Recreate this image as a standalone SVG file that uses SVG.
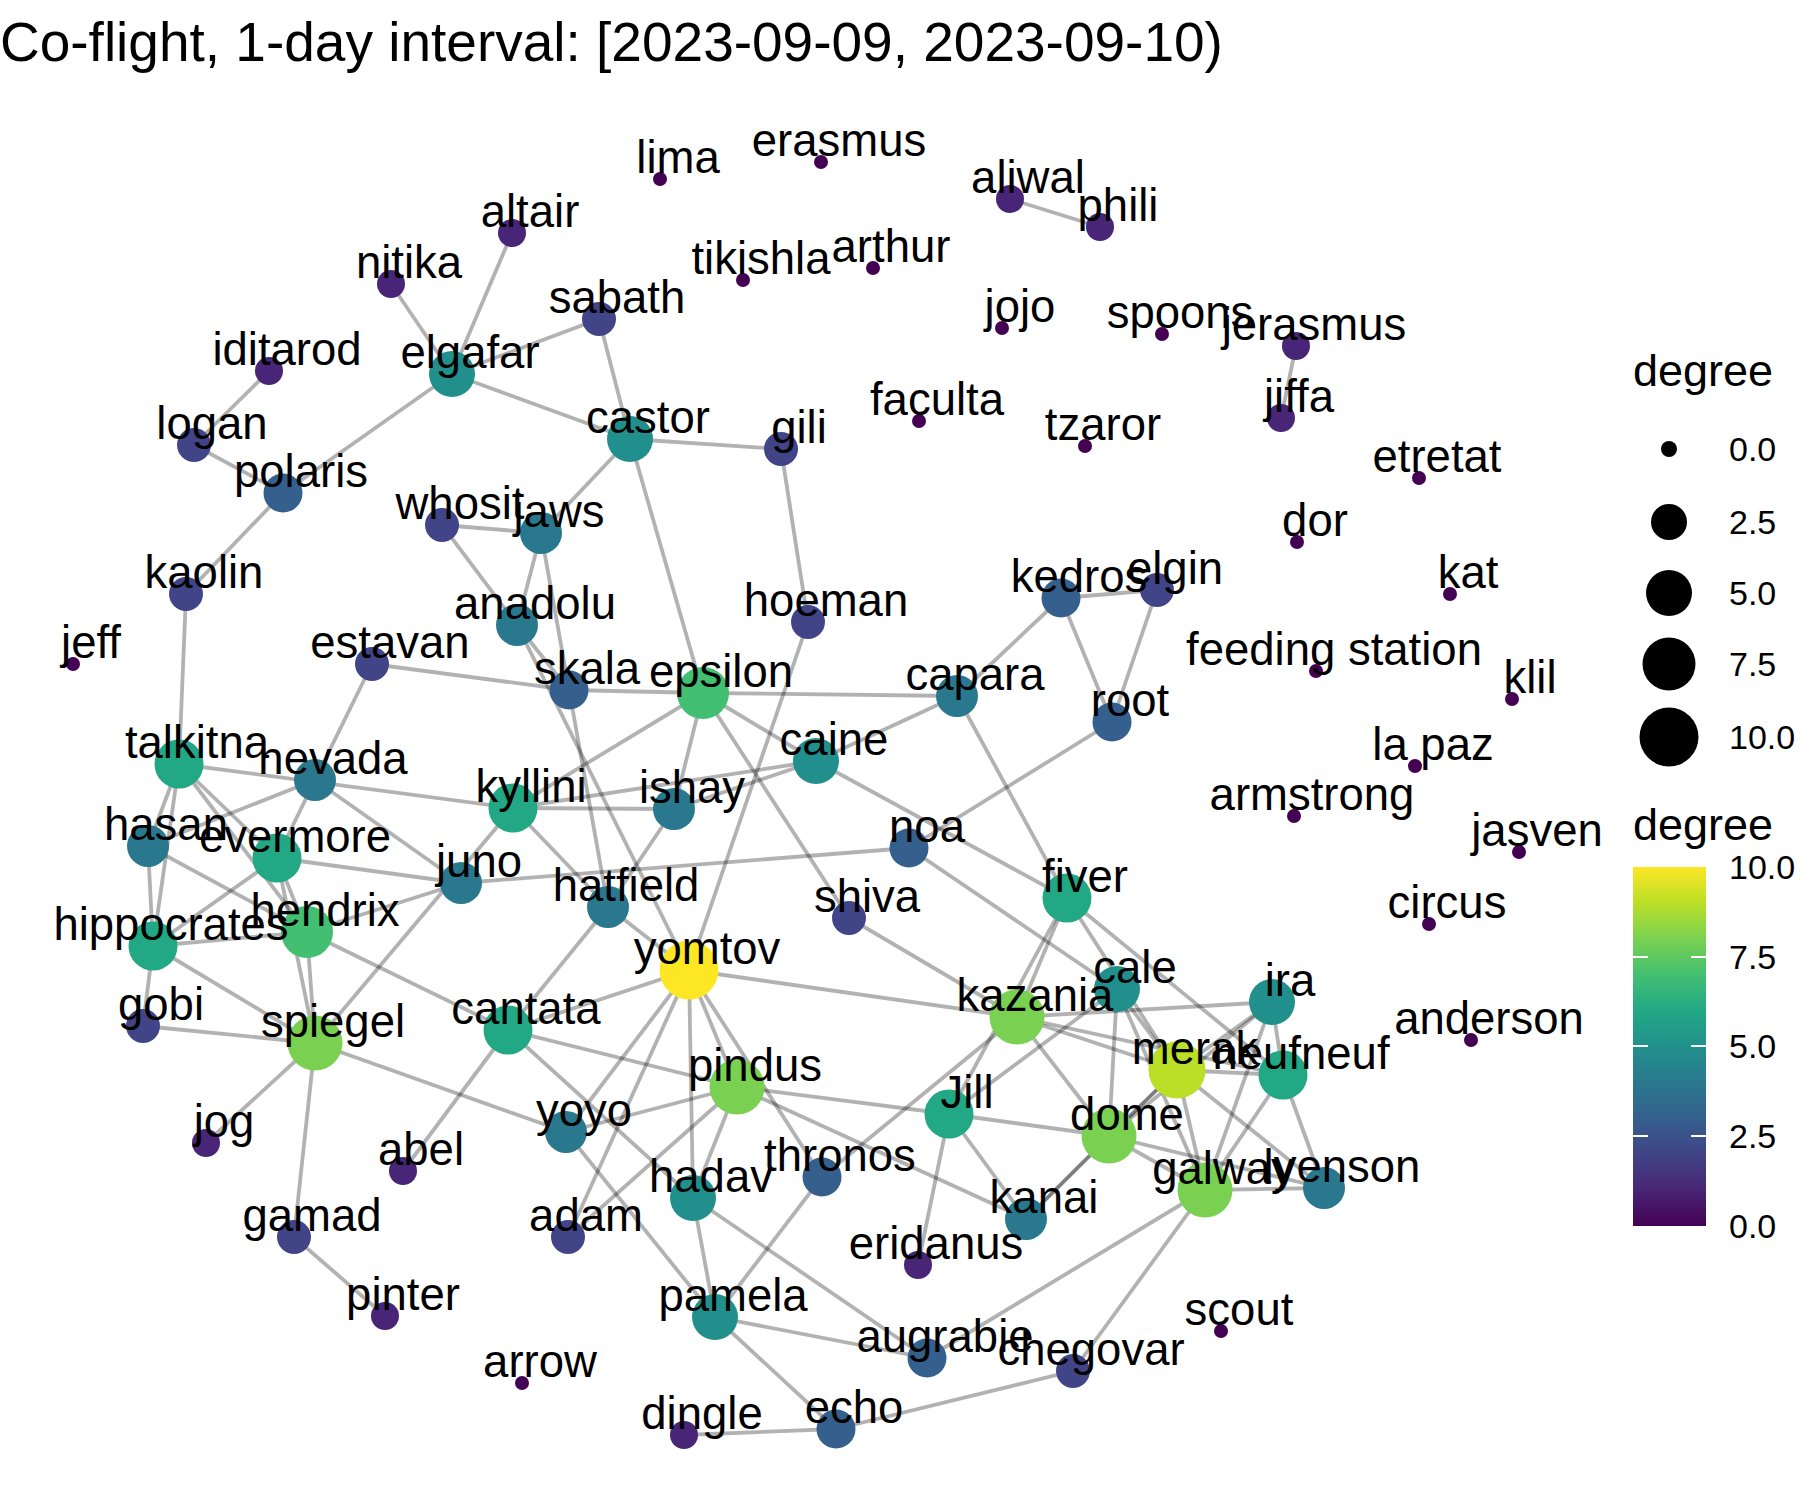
<svg xmlns="http://www.w3.org/2000/svg" width="1800" height="1500" viewBox="0 0 1800 1500">
<style>
.e{stroke:#000;stroke-opacity:0.3;stroke-width:3.8;fill:none;stroke-linecap:butt}
.lbl{font-family:"Liberation Sans",Arial,Helvetica,sans-serif;font-size:45.5px;fill:#000;text-anchor:middle}
.title{font-family:"Liberation Sans",Arial,Helvetica,sans-serif;font-size:55px;fill:#000}
.lt{font-family:"Liberation Sans",Arial,Helvetica,sans-serif;font-size:45px;fill:#000}
.lx{font-family:"Liberation Sans",Arial,Helvetica,sans-serif;font-size:34px;fill:#000}
.d0{fill:#440154}.d1{fill:#482576}.d2{fill:#414487}.d3{fill:#35608D}.d4{fill:#2A788E}.d5{fill:#21908C}.d6{fill:#22A884}.d7{fill:#43BF71}.d8{fill:#7AD151}.d9{fill:#BBDF27}.d10{fill:#FDE725}
.tick{stroke:#fff;stroke-width:2}
</style>
<defs>
<linearGradient id="vir" x1="0" y1="0" x2="0" y2="1">
<stop offset="0" stop-color="#FDE725"/><stop offset="0.1" stop-color="#BBDF27"/><stop offset="0.2" stop-color="#7AD151"/><stop offset="0.3" stop-color="#43BF71"/><stop offset="0.4" stop-color="#22A884"/><stop offset="0.5" stop-color="#21908C"/><stop offset="0.6" stop-color="#2A788E"/><stop offset="0.7" stop-color="#35608D"/><stop offset="0.8" stop-color="#414487"/><stop offset="0.9" stop-color="#482576"/><stop offset="1" stop-color="#440154"/>
</linearGradient>
</defs>
<rect width="1800" height="1500" fill="#fff"/>
<text class="title" x="0" y="61">Co-flight, 1-day interval: [2023-09-09, 2023-09-10)</text>
<g id="edges">
<line class="e" x1="512" y1="233" x2="452" y2="374"/>
<line class="e" x1="391" y1="284" x2="452" y2="374"/>
<line class="e" x1="269" y1="371" x2="194" y2="445"/>
<line class="e" x1="194" y1="445" x2="283" y2="493"/>
<line class="e" x1="283" y1="493" x2="452" y2="374"/>
<line class="e" x1="283" y1="493" x2="186" y2="594"/>
<line class="e" x1="186" y1="594" x2="179" y2="764"/>
<line class="e" x1="452" y1="374" x2="599" y2="319"/>
<line class="e" x1="452" y1="374" x2="630" y2="439"/>
<line class="e" x1="599" y1="319" x2="630" y2="439"/>
<line class="e" x1="630" y1="439" x2="781" y2="449"/>
<line class="e" x1="630" y1="439" x2="541" y2="533"/>
<line class="e" x1="630" y1="439" x2="703" y2="693"/>
<line class="e" x1="781" y1="449" x2="808" y2="622"/>
<line class="e" x1="808" y1="622" x2="689" y2="970"/>
<line class="e" x1="442" y1="525" x2="541" y2="533"/>
<line class="e" x1="442" y1="525" x2="517" y2="625"/>
<line class="e" x1="541" y1="533" x2="517" y2="625"/>
<line class="e" x1="541" y1="533" x2="608" y2="907"/>
<line class="e" x1="517" y1="625" x2="569" y2="690"/>
<line class="e" x1="517" y1="625" x2="689" y2="970"/>
<line class="e" x1="372" y1="664" x2="569" y2="690"/>
<line class="e" x1="569" y1="690" x2="703" y2="693"/>
<line class="e" x1="372" y1="664" x2="315" y2="780"/>
<line class="e" x1="179" y1="764" x2="513" y2="808"/>
<line class="e" x1="179" y1="764" x2="148" y2="846"/>
<line class="e" x1="179" y1="764" x2="153" y2="946"/>
<line class="e" x1="179" y1="764" x2="277" y2="858"/>
<line class="e" x1="179" y1="764" x2="307" y2="932"/>
<line class="e" x1="315" y1="780" x2="148" y2="846"/>
<line class="e" x1="315" y1="780" x2="277" y2="858"/>
<line class="e" x1="315" y1="780" x2="461" y2="883"/>
<line class="e" x1="148" y1="846" x2="153" y2="946"/>
<line class="e" x1="148" y1="846" x2="307" y2="932"/>
<line class="e" x1="153" y1="946" x2="277" y2="858"/>
<line class="e" x1="153" y1="946" x2="307" y2="932"/>
<line class="e" x1="153" y1="946" x2="315" y2="1043"/>
<line class="e" x1="153" y1="946" x2="143" y2="1026"/>
<line class="e" x1="277" y1="858" x2="461" y2="883"/>
<line class="e" x1="277" y1="858" x2="315" y2="1043"/>
<line class="e" x1="277" y1="858" x2="307" y2="932"/>
<line class="e" x1="307" y1="932" x2="315" y2="1043"/>
<line class="e" x1="307" y1="932" x2="461" y2="883"/>
<line class="e" x1="307" y1="932" x2="508" y2="1030"/>
<line class="e" x1="315" y1="1043" x2="513" y2="808"/>
<line class="e" x1="315" y1="1043" x2="143" y2="1026"/>
<line class="e" x1="315" y1="1043" x2="566" y2="1132"/>
<line class="e" x1="315" y1="1043" x2="206" y2="1143"/>
<line class="e" x1="315" y1="1043" x2="294" y2="1237"/>
<line class="e" x1="294" y1="1237" x2="385" y2="1316"/>
<line class="e" x1="461" y1="883" x2="909" y2="848"/>
<line class="e" x1="513" y1="808" x2="703" y2="693"/>
<line class="e" x1="513" y1="808" x2="674" y2="809"/>
<line class="e" x1="513" y1="808" x2="816" y2="761"/>
<line class="e" x1="513" y1="808" x2="608" y2="907"/>
<line class="e" x1="674" y1="809" x2="703" y2="693"/>
<line class="e" x1="674" y1="809" x2="816" y2="761"/>
<line class="e" x1="674" y1="809" x2="608" y2="907"/>
<line class="e" x1="703" y1="693" x2="957" y2="696"/>
<line class="e" x1="703" y1="693" x2="816" y2="761"/>
<line class="e" x1="703" y1="693" x2="849" y2="918"/>
<line class="e" x1="816" y1="761" x2="957" y2="696"/>
<line class="e" x1="816" y1="761" x2="1067" y2="898"/>
<line class="e" x1="957" y1="696" x2="1061" y2="598"/>
<line class="e" x1="957" y1="696" x2="1067" y2="898"/>
<line class="e" x1="1061" y1="598" x2="1157" y2="590"/>
<line class="e" x1="1061" y1="598" x2="1112" y2="722"/>
<line class="e" x1="1157" y1="590" x2="1112" y2="722"/>
<line class="e" x1="1112" y1="722" x2="909" y2="848"/>
<line class="e" x1="909" y1="848" x2="1117" y2="989"/>
<line class="e" x1="608" y1="907" x2="689" y2="970"/>
<line class="e" x1="608" y1="907" x2="508" y2="1030"/>
<line class="e" x1="508" y1="1030" x2="689" y2="970"/>
<line class="e" x1="508" y1="1030" x2="403" y2="1171"/>
<line class="e" x1="508" y1="1030" x2="737" y2="1087"/>
<line class="e" x1="508" y1="1030" x2="693" y2="1198"/>
<line class="e" x1="689" y1="970" x2="1017" y2="1017"/>
<line class="e" x1="689" y1="970" x2="566" y2="1132"/>
<line class="e" x1="689" y1="970" x2="568" y2="1237"/>
<line class="e" x1="689" y1="970" x2="693" y2="1198"/>
<line class="e" x1="689" y1="970" x2="737" y2="1087"/>
<line class="e" x1="689" y1="970" x2="822" y2="1177"/>
<line class="e" x1="849" y1="918" x2="1017" y2="1017"/>
<line class="e" x1="566" y1="1132" x2="737" y2="1087"/>
<line class="e" x1="566" y1="1132" x2="715" y2="1317"/>
<line class="e" x1="737" y1="1087" x2="568" y2="1237"/>
<line class="e" x1="737" y1="1087" x2="693" y2="1198"/>
<line class="e" x1="737" y1="1087" x2="949" y2="1114"/>
<line class="e" x1="737" y1="1087" x2="1026" y2="1219"/>
<line class="e" x1="693" y1="1198" x2="715" y2="1317"/>
<line class="e" x1="693" y1="1198" x2="927" y2="1358"/>
<line class="e" x1="822" y1="1177" x2="715" y2="1317"/>
<line class="e" x1="822" y1="1177" x2="1017" y2="1017"/>
<line class="e" x1="715" y1="1317" x2="927" y2="1358"/>
<line class="e" x1="715" y1="1317" x2="836" y2="1429"/>
<line class="e" x1="836" y1="1429" x2="684" y2="1435"/>
<line class="e" x1="836" y1="1429" x2="1073" y2="1371"/>
<line class="e" x1="1073" y1="1371" x2="1205" y2="1190"/>
<line class="e" x1="927" y1="1358" x2="1205" y2="1190"/>
<line class="e" x1="949" y1="1114" x2="1109" y2="1136"/>
<line class="e" x1="949" y1="1114" x2="1026" y2="1219"/>
<line class="e" x1="949" y1="1114" x2="918" y2="1265"/>
<line class="e" x1="949" y1="1114" x2="1067" y2="898"/>
<line class="e" x1="949" y1="1114" x2="1117" y2="989"/>
<line class="e" x1="1026" y1="1219" x2="1109" y2="1136"/>
<line class="e" x1="1026" y1="1219" x2="1177" y2="1070"/>
<line class="e" x1="1067" y1="898" x2="1017" y2="1017"/>
<line class="e" x1="1067" y1="898" x2="1283" y2="1075"/>
<line class="e" x1="1067" y1="898" x2="1177" y2="1070"/>
<line class="e" x1="1017" y1="1017" x2="1272" y2="1002"/>
<line class="e" x1="1017" y1="1017" x2="1177" y2="1070"/>
<line class="e" x1="1017" y1="1017" x2="1109" y2="1136"/>
<line class="e" x1="1017" y1="1017" x2="1283" y2="1075"/>
<line class="e" x1="1117" y1="989" x2="1109" y2="1136"/>
<line class="e" x1="1117" y1="989" x2="1177" y2="1070"/>
<line class="e" x1="1117" y1="989" x2="1205" y2="1190"/>
<line class="e" x1="1272" y1="1002" x2="1177" y2="1070"/>
<line class="e" x1="1272" y1="1002" x2="1109" y2="1136"/>
<line class="e" x1="1272" y1="1002" x2="1283" y2="1075"/>
<line class="e" x1="1272" y1="1002" x2="1205" y2="1190"/>
<line class="e" x1="1177" y1="1070" x2="1283" y2="1075"/>
<line class="e" x1="1177" y1="1070" x2="1324" y2="1188"/>
<line class="e" x1="1177" y1="1070" x2="1205" y2="1190"/>
<line class="e" x1="1177" y1="1070" x2="1109" y2="1136"/>
<line class="e" x1="1283" y1="1075" x2="1205" y2="1190"/>
<line class="e" x1="1283" y1="1075" x2="1324" y2="1188"/>
<line class="e" x1="1109" y1="1136" x2="1205" y2="1190"/>
<line class="e" x1="1109" y1="1136" x2="1324" y2="1188"/>
<line class="e" x1="1205" y1="1190" x2="1324" y2="1188"/>
<line class="e" x1="1010" y1="199" x2="1100" y2="227"/>
<line class="e" x1="1296" y1="346" x2="1281" y2="418"/>
</g>
<g id="nodes">
<g id="node-altair"><circle class="d1" cx="512" cy="233" r="14"/></g>
<g id="node-nitika"><circle class="d1" cx="391" cy="284" r="14"/></g>
<g id="node-iditarod"><circle class="d1" cx="269" cy="371" r="14"/></g>
<g id="node-elgafar"><circle class="d5" cx="452" cy="374" r="23"/></g>
<g id="node-logan"><circle class="d2" cx="194" cy="445" r="17"/></g>
<g id="node-polaris"><circle class="d3" cx="283" cy="493" r="19.5"/></g>
<g id="node-whosit"><circle class="d2" cx="442" cy="525" r="17"/></g>
<g id="node-jaws"><circle class="d4" cx="541" cy="533" r="21"/></g>
<g id="node-kaolin"><circle class="d2" cx="186" cy="594" r="17"/></g>
<g id="node-lima"><circle class="d0" cx="660" cy="179" r="7"/></g>
<g id="node-erasmus"><circle class="d0" cx="821" cy="162" r="7"/></g>
<g id="node-aliwal"><circle class="d1" cx="1010" cy="199" r="14"/></g>
<g id="node-phili"><circle class="d1" cx="1100" cy="227" r="14"/></g>
<g id="node-tikishla"><circle class="d0" cx="743" cy="280" r="7"/></g>
<g id="node-arthur"><circle class="d0" cx="873" cy="268" r="7"/></g>
<g id="node-sabath"><circle class="d2" cx="599" cy="319" r="17"/></g>
<g id="node-jojo"><circle class="d0" cx="1002" cy="328" r="7"/></g>
<g id="node-faculta"><circle class="d0" cx="919" cy="421" r="7"/></g>
<g id="node-tzaror"><circle class="d0" cx="1085" cy="446" r="7"/></g>
<g id="node-castor"><circle class="d5" cx="630" cy="439" r="23"/></g>
<g id="node-gili"><circle class="d2" cx="781" cy="449" r="17"/></g>
<g id="node-hoeman"><circle class="d2" cx="808" cy="622" r="17"/></g>
<g id="node-kedros"><circle class="d3" cx="1061" cy="598" r="19.5"/></g>
<g id="node-spoons"><circle class="d0" cx="1162" cy="334" r="7"/></g>
<g id="node-jerasmus"><circle class="d1" cx="1296" cy="346" r="14"/></g>
<g id="node-jiffa"><circle class="d1" cx="1281" cy="418" r="14"/></g>
<g id="node-etretat"><circle class="d0" cx="1419" cy="478" r="7"/></g>
<g id="node-dor"><circle class="d0" cx="1297" cy="542" r="7"/></g>
<g id="node-elgin"><circle class="d2" cx="1157" cy="590" r="17"/></g>
<g id="node-kat"><circle class="d0" cx="1450" cy="594" r="7"/></g>
<g id="node-jeff"><circle class="d0" cx="73" cy="664" r="7"/></g>
<g id="node-estavan"><circle class="d2" cx="372" cy="664" r="17"/></g>
<g id="node-anadolu"><circle class="d4" cx="517" cy="625" r="21"/></g>
<g id="node-talkitna"><circle class="d6" cx="179" cy="764" r="24.5"/></g>
<g id="node-nevada"><circle class="d4" cx="315" cy="780" r="21"/></g>
<g id="node-kyllini"><circle class="d6" cx="513" cy="808" r="24.5"/></g>
<g id="node-hasan"><circle class="d4" cx="148" cy="846" r="21"/></g>
<g id="node-evermore"><circle class="d6" cx="277" cy="858" r="24.5"/></g>
<g id="node-juno"><circle class="d4" cx="461" cy="883" r="21"/></g>
<g id="node-hendrix"><circle class="d7" cx="307" cy="932" r="26"/></g>
<g id="node-hippocrates"><circle class="d6" cx="153" cy="946" r="24.5"/></g>
<g id="node-gobi"><circle class="d2" cx="143" cy="1026" r="17"/></g>
<g id="node-spiegel"><circle class="d8" cx="315" cy="1043" r="27.5"/></g>
<g id="node-cantata"><circle class="d6" cx="508" cy="1030" r="24.5"/></g>
<g id="node-skala"><circle class="d3" cx="569" cy="690" r="19.5"/></g>
<g id="node-epsilon"><circle class="d7" cx="703" cy="693" r="26"/></g>
<g id="node-capara"><circle class="d4" cx="957" cy="696" r="21"/></g>
<g id="node-caine"><circle class="d5" cx="816" cy="761" r="23"/></g>
<g id="node-ishay"><circle class="d4" cx="674" cy="809" r="21"/></g>
<g id="node-noa"><circle class="d3" cx="909" cy="848" r="19.5"/></g>
<g id="node-hatfield"><circle class="d4" cx="608" cy="907" r="21"/></g>
<g id="node-shiva"><circle class="d2" cx="849" cy="918" r="17"/></g>
<g id="node-fiver"><circle class="d6" cx="1067" cy="898" r="24.5"/></g>
<g id="node-yomtov"><circle class="d10" cx="689" cy="970" r="29.5"/></g>
<g id="node-kazania"><circle class="d8" cx="1017" cy="1017" r="27.5"/></g>
<g id="node-root"><circle class="d3" cx="1112" cy="722" r="19.5"/></g>
<g id="node-feeding-station"><circle class="d0" cx="1316" cy="671" r="7"/></g>
<g id="node-klil"><circle class="d0" cx="1512" cy="699" r="7"/></g>
<g id="node-la-paz"><circle class="d0" cx="1415" cy="766" r="7"/></g>
<g id="node-armstrong"><circle class="d0" cx="1294" cy="816" r="7"/></g>
<g id="node-jasven"><circle class="d0" cx="1519" cy="852" r="7"/></g>
<g id="node-circus"><circle class="d0" cx="1429" cy="924" r="7"/></g>
<g id="node-cale"><circle class="d5" cx="1117" cy="989" r="23"/></g>
<g id="node-ira"><circle class="d5" cx="1272" cy="1002" r="23"/></g>
<g id="node-anderson"><circle class="d0" cx="1471" cy="1040" r="7"/></g>
<g id="node-merak"><circle class="d9" cx="1177" cy="1070" r="28.5"/></g>
<g id="node-neufneuf"><circle class="d6" cx="1283" cy="1075" r="24.5"/></g>
<g id="node-dome"><circle class="d8" cx="1109" cy="1136" r="27.5"/></g>
<g id="node-galway"><circle class="d8" cx="1205" cy="1190" r="27.5"/></g>
<g id="node-lyenson"><circle class="d4" cx="1324" cy="1188" r="21"/></g>
<g id="node-scout"><circle class="d0" cx="1221" cy="1331" r="7"/></g>
<g id="node-chegovar"><circle class="d2" cx="1073" cy="1371" r="17"/></g>
<g id="node-pindus"><circle class="d8" cx="737" cy="1087" r="27.5"/></g>
<g id="node-yoyo"><circle class="d4" cx="566" cy="1132" r="21"/></g>
<g id="node-Jill"><circle class="d6" cx="949" cy="1114" r="24.5"/></g>
<g id="node-thronos"><circle class="d3" cx="822" cy="1177" r="19.5"/></g>
<g id="node-hadav"><circle class="d5" cx="693" cy="1198" r="23"/></g>
<g id="node-kanai"><circle class="d4" cx="1026" cy="1219" r="21"/></g>
<g id="node-adam"><circle class="d2" cx="568" cy="1237" r="17"/></g>
<g id="node-eridanus"><circle class="d1" cx="918" cy="1265" r="14"/></g>
<g id="node-pamela"><circle class="d5" cx="715" cy="1317" r="23"/></g>
<g id="node-augrabie"><circle class="d3" cx="927" cy="1358" r="19.5"/></g>
<g id="node-dingle"><circle class="d1" cx="684" cy="1435" r="14"/></g>
<g id="node-echo"><circle class="d3" cx="836" cy="1429" r="19.5"/></g>
<g id="node-jog"><circle class="d1" cx="206" cy="1143" r="14"/></g>
<g id="node-abel"><circle class="d1" cx="403" cy="1171" r="14"/></g>
<g id="node-gamad"><circle class="d2" cx="294" cy="1237" r="17"/></g>
<g id="node-pinter"><circle class="d1" cx="385" cy="1316" r="14"/></g>
<g id="node-arrow"><circle class="d0" cx="522" cy="1383" r="7"/></g>
</g>
<g id="labels" transform="translate(0,3)">
<text class="lbl" x="530" y="224">altair</text>
<text class="lbl" x="409" y="275">nitika</text>
<text class="lbl" x="287" y="362">iditarod</text>
<text class="lbl" x="470" y="365">elgafar</text>
<text class="lbl" x="212" y="436">logan</text>
<text class="lbl" x="301" y="484">polaris</text>
<text class="lbl" x="460" y="516">whosit</text>
<text class="lbl" x="559" y="524">jaws</text>
<text class="lbl" x="204" y="585">kaolin</text>
<text class="lbl" x="678" y="170">lima</text>
<text class="lbl" x="839" y="153">erasmus</text>
<text class="lbl" x="1028" y="190">aliwal</text>
<text class="lbl" x="1118" y="218">phili</text>
<text class="lbl" x="761" y="271">tikishla</text>
<text class="lbl" x="891" y="259">arthur</text>
<text class="lbl" x="617" y="310">sabath</text>
<text class="lbl" x="1020" y="319">jojo</text>
<text class="lbl" x="937" y="412">faculta</text>
<text class="lbl" x="1103" y="437">tzaror</text>
<text class="lbl" x="648" y="430">castor</text>
<text class="lbl" x="799" y="440">gili</text>
<text class="lbl" x="826" y="613">hoeman</text>
<text class="lbl" x="1079" y="589">kedros</text>
<text class="lbl" x="1180" y="325">spoons</text>
<text class="lbl" x="1314" y="337">jerasmus</text>
<text class="lbl" x="1299" y="409">jiffa</text>
<text class="lbl" x="1437" y="469">etretat</text>
<text class="lbl" x="1315" y="533">dor</text>
<text class="lbl" x="1175" y="581">elgin</text>
<text class="lbl" x="1468" y="585">kat</text>
<text class="lbl" x="91" y="655">jeff</text>
<text class="lbl" x="390" y="655">estavan</text>
<text class="lbl" x="535" y="616">anadolu</text>
<text class="lbl" x="197" y="755">talkitna</text>
<text class="lbl" x="333" y="771">nevada</text>
<text class="lbl" x="531" y="799">kyllini</text>
<text class="lbl" x="166" y="837">hasan</text>
<text class="lbl" x="295" y="849">evermore</text>
<text class="lbl" x="479" y="874">juno</text>
<text class="lbl" x="325" y="923">hendrix</text>
<text class="lbl" x="171" y="937">hippocrates</text>
<text class="lbl" x="161" y="1017">gobi</text>
<text class="lbl" x="333" y="1034">spiegel</text>
<text class="lbl" x="526" y="1021">cantata</text>
<text class="lbl" x="587" y="681">skala</text>
<text class="lbl" x="721" y="684">epsilon</text>
<text class="lbl" x="975" y="687">capara</text>
<text class="lbl" x="834" y="752">caine</text>
<text class="lbl" x="692" y="800">ishay</text>
<text class="lbl" x="927" y="839">noa</text>
<text class="lbl" x="626" y="898">hatfield</text>
<text class="lbl" x="867" y="909">shiva</text>
<text class="lbl" x="1085" y="889">fiver</text>
<text class="lbl" x="707" y="961">yomtov</text>
<text class="lbl" x="1035" y="1008">kazania</text>
<text class="lbl" x="1130" y="713">root</text>
<text class="lbl" x="1334" y="662">feeding station</text>
<text class="lbl" x="1530" y="690">klil</text>
<text class="lbl" x="1433" y="757">la paz</text>
<text class="lbl" x="1312" y="807">armstrong</text>
<text class="lbl" x="1537" y="843">jasven</text>
<text class="lbl" x="1447" y="915">circus</text>
<text class="lbl" x="1135" y="980">cale</text>
<text class="lbl" x="1290" y="993">ira</text>
<text class="lbl" x="1489" y="1031">anderson</text>
<text class="lbl" x="1195" y="1061">merak</text>
<text class="lbl" x="1301" y="1066">neufneuf</text>
<text class="lbl" x="1127" y="1127">dome</text>
<text class="lbl" x="1223" y="1181">galway</text>
<text class="lbl" x="1342" y="1179">lyenson</text>
<text class="lbl" x="1239" y="1322">scout</text>
<text class="lbl" x="1091" y="1362">chegovar</text>
<text class="lbl" x="755" y="1078">pindus</text>
<text class="lbl" x="584" y="1123">yoyo</text>
<text class="lbl" x="967" y="1105">Jill</text>
<text class="lbl" x="840" y="1168">thronos</text>
<text class="lbl" x="711" y="1189">hadav</text>
<text class="lbl" x="1044" y="1210">kanai</text>
<text class="lbl" x="586" y="1228">adam</text>
<text class="lbl" x="936" y="1256">eridanus</text>
<text class="lbl" x="733" y="1308">pamela</text>
<text class="lbl" x="945" y="1349">augrabie</text>
<text class="lbl" x="702" y="1426">dingle</text>
<text class="lbl" x="854" y="1420">echo</text>
<text class="lbl" x="224" y="1134">jog</text>
<text class="lbl" x="421" y="1162">abel</text>
<text class="lbl" x="312" y="1228">gamad</text>
<text class="lbl" x="403" y="1307">pinter</text>
<text class="lbl" x="540" y="1374">arrow</text>
</g>
<g id="legend-size">
<text class="lt" x="1633" y="386">degree</text>
<circle cx="1669" cy="449" r="8" fill="#000"/>
<circle cx="1669" cy="522" r="18" fill="#000"/>
<circle cx="1669" cy="593" r="23" fill="#000"/>
<circle cx="1669" cy="664" r="26.5" fill="#000"/>
<circle cx="1669" cy="737" r="29.5" fill="#000"/>
<text class="lx" x="1729" y="461">0.0</text>
<text class="lx" x="1729" y="534">2.5</text>
<text class="lx" x="1729" y="605">5.0</text>
<text class="lx" x="1729" y="676">7.5</text>
<text class="lx" x="1729" y="749">10.0</text>
</g>
<g id="legend-colour">
<text class="lt" x="1633" y="840">degree</text>
<rect x="1633" y="867" width="73" height="359" fill="url(#vir)"/>
<line class="tick" x1="1633" y1="957" x2="1648" y2="957"/><line class="tick" x1="1691" y1="957" x2="1706" y2="957"/>
<line class="tick" x1="1633" y1="1046" x2="1648" y2="1046"/><line class="tick" x1="1691" y1="1046" x2="1706" y2="1046"/>
<line class="tick" x1="1633" y1="1136" x2="1648" y2="1136"/><line class="tick" x1="1691" y1="1136" x2="1706" y2="1136"/>
<text class="lx" x="1729" y="879">10.0</text>
<text class="lx" x="1729" y="969">7.5</text>
<text class="lx" x="1729" y="1058">5.0</text>
<text class="lx" x="1729" y="1148">2.5</text>
<text class="lx" x="1729" y="1238">0.0</text>
</g>
</svg>
